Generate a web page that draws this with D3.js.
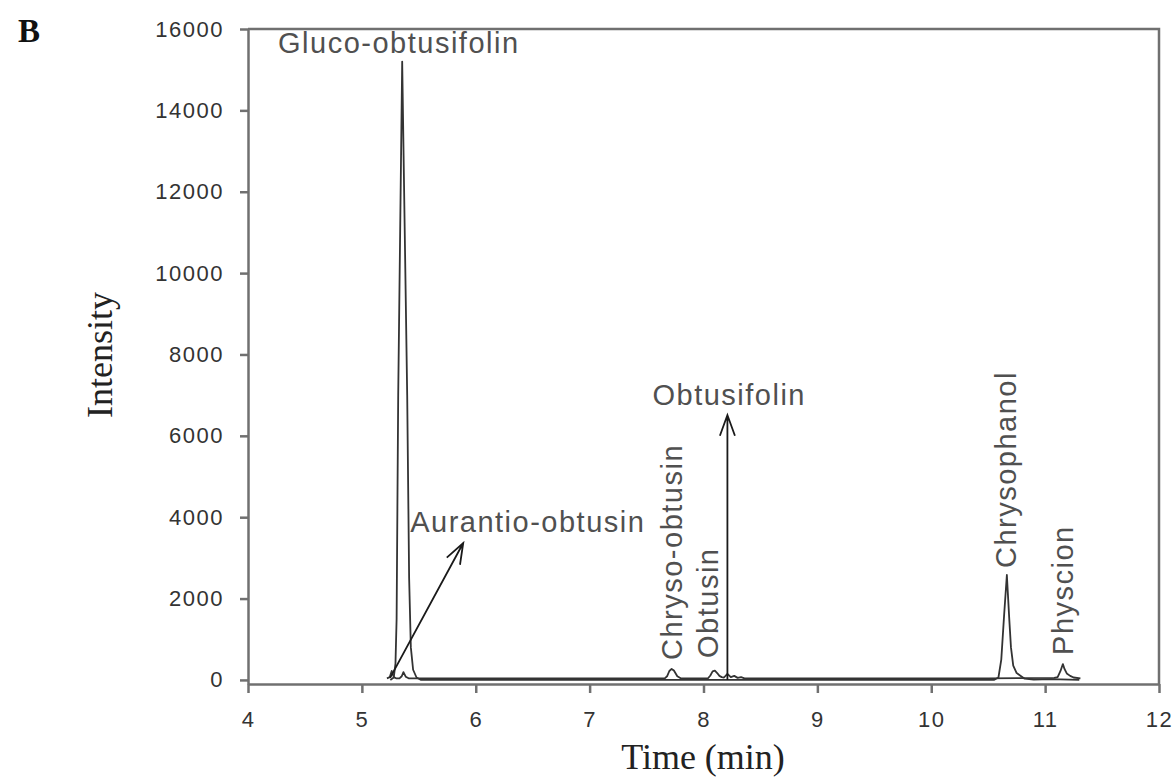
<!DOCTYPE html>
<html>
<head>
<meta charset="utf-8">
<script src="https://cdn.jsdelivr.net/npm/d3@7"></script>
<style>
  body { margin: 0; background: #fff; }
  .axis text { font-family: "Liberation Sans", Arial, sans-serif; font-size: 22px; letter-spacing: 1.5px; fill: #333; }
  .axis path, .axis line { stroke: #707070; stroke-width: 2.5; }
  .peak-label { font-family: "Liberation Sans", Arial, sans-serif; font-size: 29px; letter-spacing: 1.5px; fill: #505050; }
  .title { font-family: "Liberation Serif", "Times New Roman", serif; font-size: 36px; fill: #222; }
</style>
</head>
<body>
<svg id="chart" width="1175" height="781"></svg>
<script>
// tick values
const xTicks = [4, 5, 6, 7, 8, 9, 10, 11, 12];
const yTicks = [0, 2000, 4000, 6000, 8000, 10000, 12000, 14000, 16000];

// chromatogram traces, [time (min), intensity]
const glucoTrace = [
  [5.25, 0], [5.28, 60], [5.295, 400], [5.305, 1500], [5.319, 7000], [5.354, 15200],
  [5.398, 7000], [5.415, 2500], [5.43, 800], [5.45, 250], [5.48, 60], [5.52, 0],
  [6.5, 0], [7.5, 0], [8.5, 0], [9.5, 0], [10.55, 0], [10.59, 60], [10.615, 500],
  [10.64, 1600], [10.664, 2580], [10.685, 1500], [10.70, 800], [10.72, 350],
  [10.75, 170], [10.78, 110], [10.82, 30], [10.9, 10], [11.05, 20], [11.3, 0]
];
const minorTrace = [
  [5.22, 40], [5.245, 70], [5.262, 220], [5.28, 70], [5.30, 40], [5.33, 40],
  [5.35, 90], [5.365, 190], [5.385, 80], [5.41, 40], [6.5, 40], [7.66, 40],
  [7.68, 90], [7.70, 220], [7.72, 270], [7.74, 230], [7.77, 90], [7.80, 40],
  [8.04, 40], [8.06, 110], [8.08, 210], [8.10, 230], [8.12, 170], [8.14, 100],
  [8.16, 70], [8.18, 60], [8.21, 150], [8.24, 70], [8.27, 100], [8.30, 50],
  [8.33, 70], [8.36, 40], [9.5, 40], [10.5, 40], [11.08, 50], [11.11, 70],
  [11.135, 220], [11.156, 390], [11.17, 270], [11.19, 160], [11.22, 100],
  [11.25, 60], [11.31, 40]
];

// peak labels
const labelNames = ['Gluco-obtusifolin', 'Aurantio-obtusin', 'Obtusifolin', 'Chryso-obtusin', 'Obtusin', 'Chrysophanol', 'Physcion'];
const labelTimes = [4.264, 5.424, 7.552, 7.815, 8.123, 10.743, 11.244];
const labelIntensities = [15405, 3636, 6757, 490, 540, 2750, 614];
const labelVertical = [false, false, false, true, true, true, true];

// arrows pointing at peaks, [time, intensity]
const arrowFrom = [[5.248, 50], [8.21, 0]];
const arrowTo = [[5.89, 3366], [8.21, 6511]];

const svg = d3.select('#chart');
const width = 1175,
  height = 781,
  margin = {top: 29, right: 16, bottom: 97, left: 248};

const x = d3.scaleLinear()
  .domain([4, 12])
  .range([margin.left, width - margin.right]);

const y = d3.scaleLinear()
  .domain([-100, 16000])
  .range([height - margin.bottom, margin.top]);

// frame top/right
svg.append('path')
  .attr('d', `M${x(4)},${y(16000)}H${x(12)}V${y(-100)}`)
  .attr('fill', 'none')
  .attr('stroke', '#707070')
  .attr('stroke-width', 2.5);

svg.append('g')
  .attr('class', 'axis')
  .attr('transform', `translate(${margin.left}, 0)`)
  .call(d3.axisLeft(y).tickValues(yTicks).tickSize(8).tickSizeOuter(0).tickPadding(16).tickFormat(d3.format('d')));

svg.append('g')
  .attr('class', 'axis')
  .attr('transform', `translate(0, ${height - margin.bottom})`)
  .call(d3.axisBottom(x).tickValues(xTicks).tickSize(9).tickSizeOuter(0).tickPadding(18).tickFormat(d3.format('d')));

const line = d3.line()
  .x(d => x(d[0]))
  .y(d => y(d[1]));

svg.selectAll('path.trace')
    .data([minorTrace, glucoTrace])
  .join('path')
    .attr('class', 'trace')
    .attr('d', line)
    .attr('fill', 'none')
    .attr('stroke', '#333')
    .attr('stroke-width', 1.8)
    .attr('stroke-linejoin', 'round');

// arrows
const headLen = 22, headAngle = 20 * Math.PI / 180;
arrowFrom.forEach((a, i) => {
  const x0 = x(a[0]), y0 = y(a[1]);
  const x1 = x(arrowTo[i][0]), y1 = y(arrowTo[i][1]);
  const ang = Math.atan2(y0 - y1, x0 - x1);
  const p1 = [x1 + headLen * Math.cos(ang - headAngle), y1 + headLen * Math.sin(ang - headAngle)];
  const p2 = [x1 + headLen * Math.cos(ang + headAngle), y1 + headLen * Math.sin(ang + headAngle)];
  svg.append('path')
    .attr('d', `M${x0},${y0}L${x1},${y1}M${p1[0]},${p1[1]}L${x1},${y1}L${p2[0]},${p2[1]}`)
    .attr('fill', 'none')
    .attr('stroke', '#1a1a1a')
    .attr('stroke-width', 1.8);
});

// peak labels
svg.selectAll('text.peak-label')
    .data(labelNames)
  .join('text')
    .attr('class', 'peak-label')
    .attr('transform', (d, i) => `translate(${x(labelTimes[i])}, ${y(labelIntensities[i])})` + (labelVertical[i] ? ' rotate(-90)' : ''))
    .text(d => d);

// titles
svg.append('text')
  .attr('class', 'title')
  .attr('transform', 'translate(112, 355) rotate(-90)')
  .attr('text-anchor', 'middle')
  .text('Intensity');

svg.append('text')
  .attr('class', 'title')
  .attr('x', 703)
  .attr('y', 769)
  .attr('text-anchor', 'middle')
  .text('Time (min)');

svg.append('text')
  .attr('x', 18)
  .attr('y', 42)
  .style('font-family', '"Liberation Serif", "Times New Roman", serif')
  .style('font-weight', 'bold')
  .style('font-size', '33px')
  .style('fill', '#111')
  .text('B');
</script>
</body>
</html>
